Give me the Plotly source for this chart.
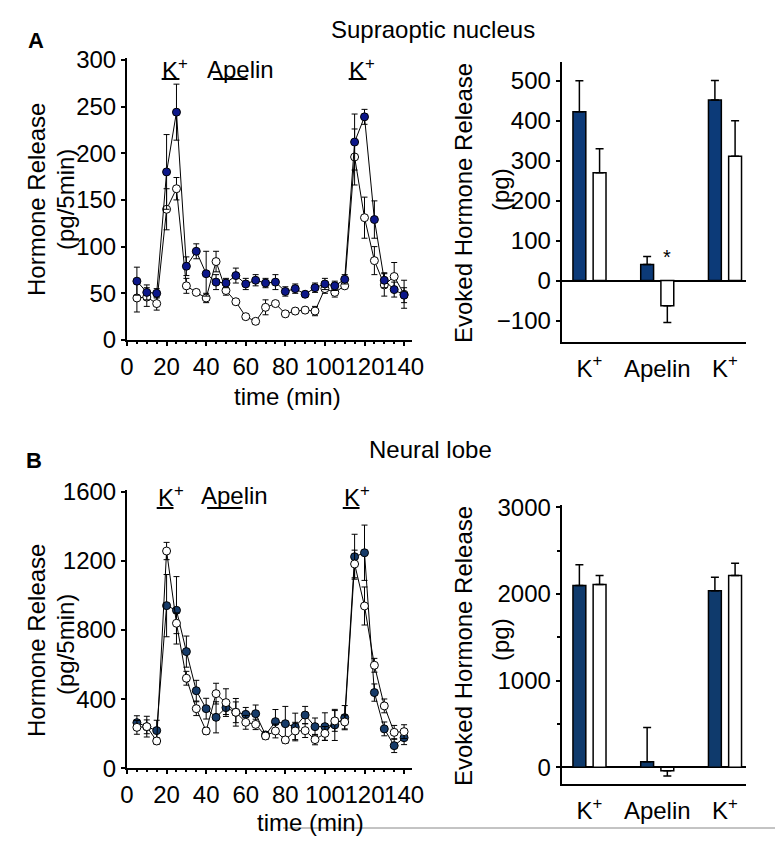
import plotly.graph_objects as go

# ---------------- data ----------------
time_min = list(range(5, 145, 5))

# Panel A (Supraoptic nucleus) time course, pg/5min
son_filled = [63, 51, 50, 180, 244, 79, 95, 71, 62, 61, 69, 60, 64, 61, 62, 52, 55, 49, 56, 60, 58, 65, 212, 239, 129, 64, 54, 48]
son_filled_err = [15, 8, 5, 40, 30, 10, 8, 24, 8, 5, 8, 6, 6, 5, 8, 5, 5, 3, 5, 6, 5, 5, 30, 8, 20, 8, 8, 8]
son_open = [45, 46, 39, 140, 162, 58, 51, 45, 84, 53, 41, 25, 20, 35, 39, 28, 31, 32, 31, 55, 51, 58, 196, 131, 85, 59, 68, 49]
son_open_err = [15, 10, 7, 22, 12, 8, 3, 5, 11, 5, 3, 3, 3, 8, 3, 3, 3, 3, 5, 5, 5, 3, 30, 22, 15, 12, 15, 15]

# Panel B (Neural lobe) time course, pg/5min
nl_filled = [264, 240, 218, 941, 914, 675, 449, 345, 295, 351, 324, 312, 316, 193, 270, 258, 239, 308, 241, 241, 251, 293, 1224, 1247, 438, 228, 131, 177]
nl_filled_err = [40, 40, 60, 180, 195, 90, 60, 60, 90, 40, 60, 40, 50, 20, 70, 100, 80, 50, 50, 80, 90, 70, 130, 160, 50, 40, 40, 40]
nl_open = [237, 241, 158, 1257, 839, 521, 345, 216, 432, 380, 324, 266, 254, 187, 216, 164, 216, 218, 166, 202, 274, 268, 1182, 939, 596, 361, 208, 212]
nl_open_err = [40, 60, 20, 50, 60, 40, 40, 20, 60, 80, 80, 40, 30, 20, 40, 20, 50, 40, 30, 40, 60, 40, 80, 110, 40, 40, 40, 40]

# Evoked release bar charts (pg)
bar_labels = ["K<sup>+</sup>", "Apelin", "K<sup>+</sup>"]
bar_pos = [0, 1, 2]
son_bar_filled = [423, 40, 452]
son_bar_filled_err_up = [77, 20, 49]
son_bar_open = [270, -63, 311]
son_bar_open_err_up = [60, 0, 89]
son_bar_open_err_down = [0, 42, 0]

nl_bar_filled = [2098, 65, 2037]
nl_bar_filled_err_up = [238, 395, 157]
nl_bar_open = [2110, -38, 2214]
nl_bar_open_err_up = [104, 0, 141]
nl_bar_open_err_down = [0, 62, 0]

# stimulus periods (min) for underlines
stim_A = [(17.5, 26.5), (43.5, 61), (112, 121)]
stim_B = [(15, 23.5), (40.5, 58.5), (109, 117.5)]

# ---------------- style ----------------
W, H = 775, 856
FONT = "Liberation Sans, Arial, sans-serif"
BLUE_A = "#0c178a"
BLUE_B = "#163b69"
BAR_A = "#0c3a78"
BAR_B = "#0f3a6c"


def px(x):
    return x / W


def py(y):
    return 1 - y / H


fig = go.Figure()


def add_series(xa, ya, y, err, color, name):
    fig.add_trace(go.Scatter(
        x=time_min, y=y, mode="lines+markers", name=name, xaxis=xa, yaxis=ya,
        line=dict(color="black", width=1),
        marker=dict(size=8, color=color, line=dict(color="black", width=1)),
        error_y=dict(type="data", array=err, color="black", thickness=1, width=3),
        showlegend=False,
    ))


# Panel A left
add_series("x", "y", son_open, son_open_err, "white", "control")
add_series("x", "y", son_filled, son_filled_err, BLUE_A, "apelin")
# Panel B left
add_series("x3", "y3", nl_filled, nl_filled_err, BLUE_B, "apelin")
add_series("x3", "y3", nl_open, nl_open_err, "white", "control")


def add_bars(xa, ya, vals, up, down, color, offset):
    fig.add_trace(go.Bar(
        x=bar_pos, y=vals, xaxis=xa, yaxis=ya, width=0.19, offset=offset,
        marker=dict(color=color, line=dict(color="black", width=1.5)),
        error_y=dict(type="data", symmetric=False, array=up,
                     arrayminus=down if down is not None else [0, 0, 0],
                     color="black", thickness=1.5, width=4),
        showlegend=False,
    ))


add_bars("x2", "y2", son_bar_filled, son_bar_filled_err_up, None, BAR_A, -0.244)
add_bars("x2", "y2", son_bar_open, son_bar_open_err_up, son_bar_open_err_down, "white", 0.054)
add_bars("x4", "y4", nl_bar_filled, nl_bar_filled_err_up, None, BAR_B, -0.244)
add_bars("x4", "y4", nl_bar_open, nl_bar_open_err_up, nl_bar_open_err_down, "white", 0.054)

tickfont = dict(family=FONT, size=24, color="black")

left_x = dict(range=[0, 144], domain=[px(127), px(412)], showline=True, linecolor="black",
              linewidth=2, ticks="outside", ticklen=4, tickwidth=1.5, tickcolor="black",
              tickvals=[0, 20, 40, 60, 80, 100, 120, 140], tickangle=0, showgrid=False,
              zeroline=False, tickfont=tickfont, automargin=False,
              minor=dict(dtick=5, ticks="outside", ticklen=2, tickcolor="black", showgrid=False))
right_x = dict(range=[-0.41, 2.31], domain=[px(561.7), px(746)], showline=True,
               linecolor="black", linewidth=2, ticks="", tickvals=bar_pos,
               ticktext=bar_labels, showgrid=False, zeroline=False, automargin=False,
               tickfont=dict(family=FONT, size=24, color="black"), ticklabelstandoff=4,
               tickangle=0)
ycommon = dict(showline=True, linecolor="black", linewidth=2, ticks="outside", ticklen=4,
               tickwidth=1.5, tickcolor="black", showgrid=False, tickfont=tickfont,
               automargin=False)

fig.update_layout(
    width=W, height=H, margin=dict(l=0, r=0, t=0, b=0, pad=0, autoexpand=False),
    paper_bgcolor="white", plot_bgcolor="rgba(0,0,0,0)",
    font=dict(family=FONT, color="black"),
    xaxis=dict(left_x, anchor="y"),
    yaxis=dict(ycommon, range=[0, 302], domain=[py(340), py(58)], anchor="x",
               tickvals=[0, 50, 100, 150, 200, 250, 300], zeroline=False),
    xaxis2=dict(right_x, anchor="y2"),
    yaxis2=dict(ycommon, range=[-153, 548], domain=[py(341.7), py(61.7)], anchor="x2",
                tickvals=[-100, 0, 100, 200, 300, 400, 500],
                zeroline=True, zerolinecolor="black", zerolinewidth=2),
    xaxis3=dict(left_x, anchor="y3"),
    yaxis3=dict(ycommon, range=[0, 1610], domain=[py(768.3), py(490)], anchor="x3",
                tickvals=[0, 400, 800, 1200, 1600], zeroline=False),
    xaxis4=dict(right_x, anchor="y4"),
    yaxis4=dict(ycommon, range=[-192, 3026], domain=[py(784), py(505)], anchor="x4",
                tickvals=[0, 1000, 2000, 3000],
                minor=dict(tickvals=[500, 1500, 2500], ticks="outside", ticklen=3,
                           tickcolor="black", showgrid=False),
                zeroline=True, zerolinecolor="black", zerolinewidth=2),
)

ann = []
shapes = []


def txt(x, y, text, size=24, angle=0, bold=False, xanchor="center"):
    ann.append(dict(x=px(x), y=py(y), xref="paper", yref="paper", text=("<b>%s</b>" % text) if bold else text,
                    showarrow=False, textangle=angle, xanchor=xanchor, yanchor="middle",
                    font=dict(family=FONT, size=size, color="black")))


# panel letters and titles
txt(36, 40, "A", size=22, bold=True)
txt(34, 460, "B", size=22, bold=True)
txt(433, 30, "Supraoptic nucleus", size=24)
txt(430, 449, "Neural lobe", size=24)

# y-axis titles
txt(36, 200, "Hormone Release", angle=-90)
txt(65, 200, "(pg/5min)", angle=-90)
txt(36, 641, "Hormone Release", angle=-90)
txt(65, 645, "(pg/5min)", angle=-90)
txt(463, 203, "Evoked Hormone Release", angle=-90)
txt(500, 190, "(pg)", angle=-90)
txt(463, 646, "Evoked Hormone Release", angle=-90)
txt(500, 640, "(pg)", angle=-90)

# x-axis titles
txt(287, 396, "time (min)")
txt(310, 822, "time (min)")

# asterisk
ann.append(dict(x=1.14, y=60, xref="x2", yref="y2", text="*", showarrow=False,
                font=dict(family=FONT, size=20, color="black")))


# stimulus labels with underlines
def stim_labels(xref, stim, y_text, y_line, labels, offsets):
    for (a, b), lab, off in zip(stim, labels, offsets):
        ann.append(dict(x=a + off, y=py(y_text), xref=xref, yref="paper", text=lab,
                        showarrow=False, xanchor="left", yanchor="middle",
                        font=dict(family=FONT, size=24, color="black")))
        shapes.append(dict(type="line", xref=xref, yref="paper", x0=a, x1=b,
                           y0=py(y_line), y1=py(y_line), line=dict(color="black", width=2)))


stim_labels("x", stim_A, 69, 79, ["K<sup>+</sup>", "Apelin", "K<sup>+</sup>"], [-0.6, -4.2, -0.6])
stim_labels("x3", stim_B, 496, 508, ["K<sup>+</sup>", "Apelin", "K<sup>+</sup>"], [-0.6, -4.0, -0.6])

# thin rule at bottom
shapes.append(dict(type="line", xref="paper", yref="paper", x0=px(283), x1=1,
                   y0=py(828), y1=py(828), line=dict(color="#888888", width=1)))

fig.update_layout(annotations=ann, shapes=shapes)
fig.write_html("out.html", config={"displayModeBar": False},
               post_script="document.body.style.margin='0';")
